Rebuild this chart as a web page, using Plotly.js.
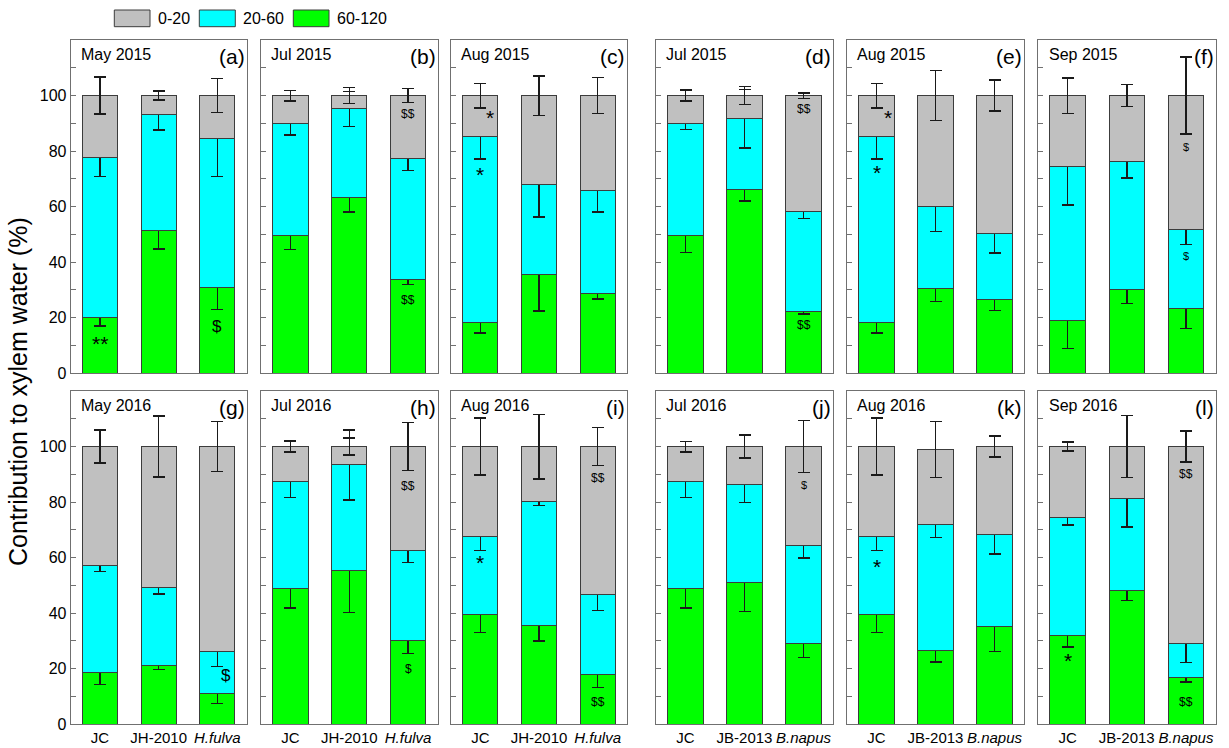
<!DOCTYPE html>
<html>
<head>
<meta charset="utf-8">
<script src="https://cdn.plot.ly/plotly-3.0.1.min.js"></script>
<style>
  html, body { margin: 0; padding: 0; background: #fff; }
  #chart { width: 1229px; height: 748px; }
</style>
</head>
<body>
<div id="chart"></div>
<script>
// Soil layer labels (cm) and fill colours
const layers = ['0-20', '20-60', '60-120'];
const layerColors = ['#c0c0c0', '#00ffff', '#00ff00'];

// Sampling dates and panel letters
const months = ['May 2015', 'Jul 2015', 'Aug 2015', 'Jul 2015', 'Aug 2015', 'Sep 2015',
                'May 2016', 'Jul 2016', 'Aug 2016', 'Jul 2016', 'Aug 2016', 'Sep 2016'];
const letters = ['(a)', '(b)', '(c)', '(d)', '(e)', '(f)', '(g)', '(h)', '(i)', '(j)', '(k)', '(l)'];

// Sites: the first three columns use group A, the last three group B
const sitesA = ['JC', 'JH-2010', 'H.fulva'];
const sitesB = ['JC', 'JB-2013', 'B.napus'];
const labelsA = ['JC', 'JH-2010', '<i>H.fulva</i>'];
const labelsB = ['JC', 'JB-2013', '<i>B.napus</i>'];

// Contribution (%) of the 60-120 cm layer, per panel, per site
const deep = [
  [20.0, 51.5, 31.0], [49.6, 63.4, 33.9], [18.2, 35.7, 28.7],
  [49.6, 66.3, 22.4], [18.2, 30.6, 26.7], [19.0, 30.0, 23.3],
  [18.6, 21.0, 11.2], [48.9, 55.2, 30.0], [39.6, 35.6, 18.0],
  [48.9, 51.1, 29.0], [39.6, 26.7, 35.1], [32.0, 48.3, 17.0]
];
// Contribution (%) of the 20-60 cm layer
const mid = [
  [57.8, 41.8, 53.4], [40.4, 31.8, 43.5], [67.0, 32.4, 37.2],
  [40.4, 25.4, 35.8], [67.0, 29.4, 23.7], [55.4, 46.4, 28.6],
  [38.5, 28.3, 14.9], [38.5, 38.2, 32.5], [28.0, 44.7, 28.6],
  [38.5, 35.2, 35.4], [28.0, 45.1, 33.2], [42.6, 33.1, 12.0]
];
// Contribution (%) of the 0-20 cm layer
const shallow = [
  [22.2, 6.7, 15.6], [10.0, 4.8, 22.6], [14.8, 31.9, 34.1],
  [10.0, 8.3, 41.8], [14.8, 40.0, 49.6], [25.6, 23.6, 48.1],
  [42.9, 50.7, 73.9], [12.6, 6.6, 37.5], [32.4, 19.7, 53.4],
  [12.6, 13.7, 35.6], [32.4, 27.1, 31.7], [25.4, 18.6, 71.0]
];
// Standard errors for each layer
const deepErr = [
  [3.0, 6.7, 8.0], [5.0, 5.3, 2.0], [3.7, 13.3, 1.9],
  [6.1, 4.3, 1.0], [3.7, 4.8, 4.0], [10.1, 4.8, 7.2],
  [4.2, 1.2, 3.7], [7.0, 14.9, 4.5], [6.6, 5.6, 4.8],
  [7.0, 10.4, 5.0], [6.6, 4.3, 8.8], [4.2, 3.7, 1.8]
];
const midErr = [
  [7.0, 5.7, 13.6], [4.2, 6.3, 4.4], [8.0, 11.8, 7.9],
  [2.2, 10.5, 2.4], [8.0, 9.0, 7.0], [13.8, 6.1, 5.5],
  [2.0, 2.3, 5.2], [5.7, 12.6, 4.3], [5.0, 1.5, 5.6],
  [5.7, 6.5, 4.5], [5.0, 4.6, 6.9], [2.8, 10.3, 6.8]
];
const shallowErr = [
  [6.7, 1.6, 6.1], [1.9, 2.9, 2.5], [4.4, 7.1, 6.5],
  [2.0, 3.3, 1.0], [4.4, 9.0, 5.6], [6.4, 4.0, 13.8],
  [6.0, 11.0, 9.0], [2.0, 3.0, 8.7], [10.3, 11.6, 6.9],
  [1.9, 4.1, 9.4], [10.3, 10.1, 3.8], [1.6, 11.2, 5.6]
];

// Significance marks: [panel, site index, y, text, font size, x shift px]
const marks = [
  [0, 0, 12.6, '**', 21, 0], [0, 2, 16.8, '$', 17, 0],
  [1, 2, 93.3, '$$', 12, 0], [1, 2, 26.4, '$$', 12, 0],
  [2, 0, 93.9, '*', 21, 10], [2, 0, 73.5, '*', 21, 0],
  [3, 2, 95.2, '$$', 12, 0], [3, 2, 17.4, '$$', 12, 0],
  [4, 0, 93.9, '*', 21, 11], [4, 0, 74.0, '*', 21, 0],
  [5, 2, 81.6, '$', 11, 0], [5, 2, 42.4, '$', 11, 0],
  [6, 2, 17.7, '$', 17, 9],
  [7, 2, 85.9, '$$', 12, 0], [7, 2, 19.9, '$', 12, 0],
  [8, 0, 60.1, '*', 21, 0], [8, 2, 88.8, '$$', 12, 0], [8, 2, 8.2, '$$', 12, 0],
  [9, 2, 86.0, '$', 11, 0],
  [10, 0, 58.5, '*', 21, 0],
  [11, 0, 24.9, '*', 21, 0], [11, 2, 90.0, '$$', 12, 0], [11, 2, 8.2, '$$', 12, 0]
];

// Y-axis ticks every 10, labelled every 20
const yTickVals = [0, 10, 20, 30, 40, 50, 60, 70, 80, 90, 100, 110];
const yTickText = ['0', '', '20', '', '40', '', '60', '', '80', '', '100', ''];

// Page geometry (pixels)
const W = 1229, H = 748;
const colPx = [[70.7, 246.7], [261, 437.5], [451, 627], [656, 833], [847, 1024], [1038, 1215.5]];
const rowPx = [[40, 373.3], [391, 724.3]];

const FONT = 'Liberation Sans, Arial, sans-serif';
const frameColor = '#707070';
const edgeColor = '#3c3c3c';
const errColor = '#1a1a1a';

const data = [];
const layout = {
  width: W, height: H,
  margin: { l: 0, r: 0, t: 0, b: 0 },
  paper_bgcolor: '#fff', plot_bgcolor: '#fff',
  barmode: 'stack',
  showlegend: false,
  font: { family: FONT, color: '#000' },
  annotations: [],
  shapes: []
};

for (let i = 0; i < 12; i++) {
  const r = Math.floor(i / 6), c = i % 6;
  const sfx = i === 0 ? '' : String(i + 1);
  const sites = c < 3 ? sitesA : sitesB;
  const labels = c < 3 ? labelsA : labelsB;
  const xa = 'x' + sfx, ya = 'y' + sfx;

  const series = [
    { vals: deep[i], err: deepErr[i], color: layerColors[2], name: layers[2] },
    { vals: mid[i], err: midErr[i], color: layerColors[1], name: layers[1] },
    { vals: shallow[i], err: shallowErr[i], color: layerColors[0], name: layers[0] }
  ];
  series.forEach(s => {
    data.push({
      type: 'bar', x: sites, y: s.vals, name: s.name,
      xaxis: xa, yaxis: ya, width: 0.6,
      marker: { color: s.color, line: { color: edgeColor, width: 1 } },
      error_y: { type: 'data', array: s.err, visible: true, color: errColor, thickness: 1.5, width: 6 },
      hoverinfo: 'skip'
    });
  });

  layout['xaxis' + sfx] = {
    domain: [colPx[c][0] / W, colPx[c][1] / W],
    anchor: ya, type: 'category', categoryorder: 'array', categoryarray: sites,
    range: [-0.5, 2.5],
    tickmode: 'array', tickvals: sites, ticktext: labels, tickangle: 0,
    showticklabels: r === 1, ticks: '',
    tickfont: { size: 15, family: FONT },
    showline: true, mirror: true, linecolor: frameColor, linewidth: 1,
    showgrid: false, zeroline: false, fixedrange: true
  };
  layout['yaxis' + sfx] = {
    domain: [(H - rowPx[r][1]) / H, (H - rowPx[r][0]) / H],
    anchor: xa, range: [0, 120],
    tickmode: 'array', tickvals: yTickVals, ticktext: yTickText,
    ticks: 'inside', ticklen: 5, tickcolor: frameColor,
    showticklabels: c === 0, tickfont: { size: 16, family: FONT },
    showline: true, mirror: true, linecolor: frameColor, linewidth: 1,
    showgrid: false, zeroline: false, fixedrange: true
  };

  layout.annotations.push({
    xref: xa + ' domain', yref: ya + ' domain', x: 0.048, y: 0.955,
    xanchor: 'left', yanchor: 'middle', showarrow: false,
    text: months[i], font: { size: 16, family: FONT }
  });
  layout.annotations.push({
    xref: xa + ' domain', yref: ya + ' domain', x: 1.0, y: 0.95,
    xanchor: 'right', yanchor: 'middle', showarrow: false,
    text: letters[i], font: { size: 21, family: FONT }
  });
}

// Significance markers placed over the bars
marks.forEach(m => {
  const [p, s, yv, txt, size, dx] = m;
  const c = p % 6;
  const sites = c < 3 ? sitesA : sitesB;
  const sfx = p === 0 ? '' : String(p + 1);
  layout.annotations.push({
    xref: 'x' + sfx, yref: 'y' + sfx, x: sites[s], y: yv,
    xshift: dx, yshift: txt.indexOf('*') >= 0 ? -5 : 0,
    showarrow: false, text: txt, font: { size: size, family: FONT, color: '#000' }
  });
});

// Shared y-axis title
layout.annotations.push({
  xref: 'paper', yref: 'paper', x: 18 / W, y: (H - 392) / H,
  xanchor: 'center', yanchor: 'middle', textangle: -90, showarrow: false,
  text: 'Contribution to xylem water (%)', font: { size: 25, family: FONT }
});

// Legend row across the top
const legendBoxes = [[114.3, 150], [199.3, 235.3], [293.3, 329]];
legendBoxes.forEach((b, k) => {
  layout.shapes.push({
    type: 'rect', xref: 'paper', yref: 'paper',
    x0: b[0] / W, x1: b[1] / W, y0: (H - 26.7) / H, y1: (H - 10) / H,
    fillcolor: layerColors[k], line: { color: edgeColor, width: 1 }
  });
  layout.annotations.push({
    xref: 'paper', yref: 'paper', x: (b[1] + 6) / W, y: (H - 18.3) / H,
    xanchor: 'left', yanchor: 'middle', showarrow: false,
    text: layers[k], font: { size: 16, family: FONT }
  });
});

Plotly.newPlot('chart', data, layout, { displayModeBar: false, staticPlot: true });
</script>
</body>
</html>
